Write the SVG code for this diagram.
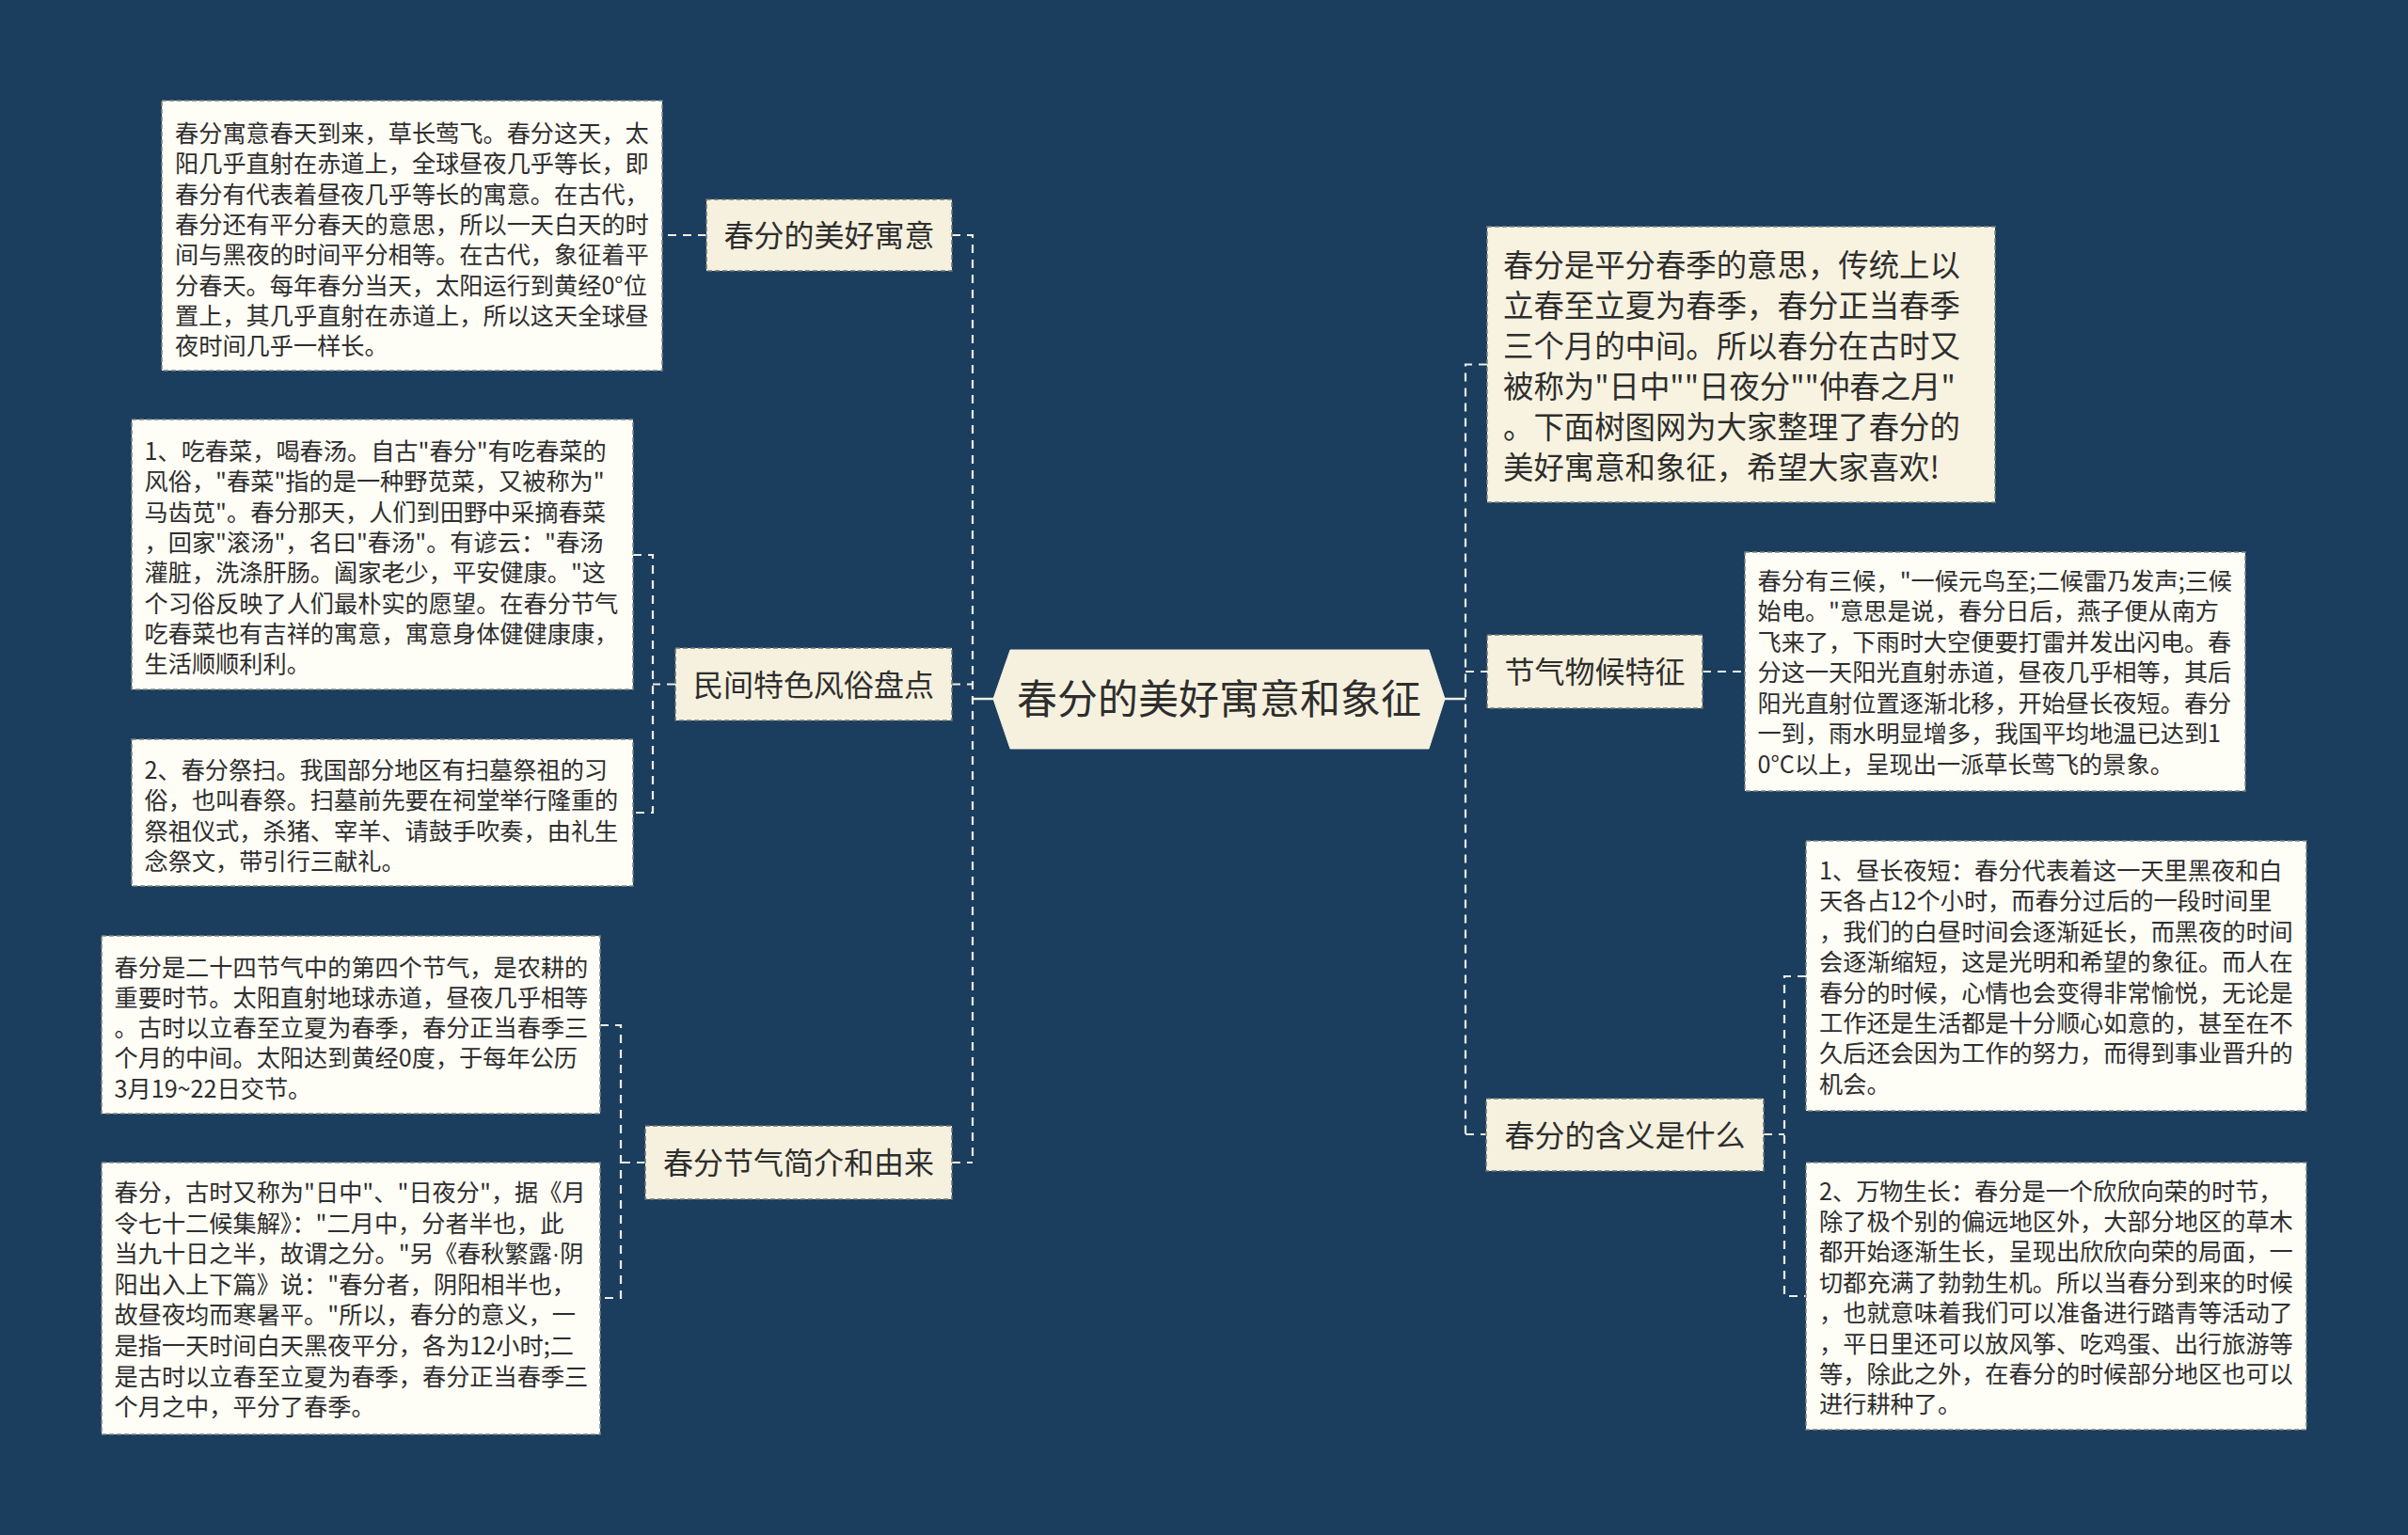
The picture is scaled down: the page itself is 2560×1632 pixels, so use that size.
<svg xmlns="http://www.w3.org/2000/svg" width="2560" height="1632" viewBox="0 0 2560 1632">
<style>
.bg{fill:#1b3d5e}
.node{fill:#f6f1de;stroke:#6f7570;stroke-width:1.5;stroke-dasharray:5 3}
.box{fill:#fefdf6;stroke:#7d8580;stroke-width:1.5;stroke-dasharray:5 3}
.intro{fill:#f8f3e0;stroke:#7d8580;stroke-width:1.5;stroke-dasharray:5 3}
.root{fill:#f6f1de;stroke:#f6f1de;stroke-width:1}
.c{fill:none;stroke:#eeeee6;stroke-width:2.2;stroke-dasharray:9 7}
.s{fill:none;stroke:#eeeee6;stroke-width:2.5}
text{font-family:"Noto Sans CJK SC","Noto Sans",sans-serif;fill:#2e2e2e}
.t{font-size:25.2px}
.m{font-size:32px;text-anchor:middle}
.i{font-size:32.4px}
.r{font-size:43px;text-anchor:middle}
.lat{font-family:"Liberation Sans",sans-serif}
</style>
<rect class="bg" x="0" y="0" width="2560" height="1632"/>

<g id="connectors">
  <path class="s" d="M1034 743 H1056"/>
  <path class="s" d="M1536 743 H1558"/>
  <path class="c" d="M1012 250 H1034 V1236"/>
  <path class="c" d="M1012 727.5 H1034"/>
  <path class="c" d="M1012 1236 H1034"/>
  <path class="c" d="M1581 387.5 H1558 V1206"/>
  <path class="c" d="M1558 714 H1581"/>
  <path class="c" d="M1558 1206 H1580"/>
  <path class="c" d="M751 250 H704"/>
  <path class="c" d="M718 727.5 H694"/>
  <path class="c" d="M673 590 H694 V864 H673"/>
  <path class="c" d="M686 1236 H660"/>
  <path class="c" d="M638 1090 H660 V1380 H638"/>
  <path class="c" d="M1810 714 H1855"/>
  <path class="c" d="M1875 1206 H1897"/>
  <path class="c" d="M1920 1038 H1897 V1378 H1920"/>
</g>

<g id="root">
  <polygon class="root" points="1056,743 1074,691 1519,691 1536,743 1519,796 1074,796"/>
  <text class="r" x="1296" y="759">春分的美好寓意和象征</text>
</g>

<g id="n-meihao">
  <rect class="node" x="751" y="212" width="261" height="76"/>
  <text class="m" x="881.5" y="262">春分的美好寓意</text>
</g>
<g id="n-minjian">
  <rect class="node" x="718" y="689" width="294" height="77"/>
  <text class="m" x="865" y="739.5">民间特色风俗盘点</text>
</g>
<g id="n-jieqi">
  <rect class="node" x="686" y="1197" width="326" height="78"/>
  <text class="m" x="849" y="1248">春分节气简介和由来</text>
</g>
<g id="n-wuhou">
  <rect class="node" x="1581" y="675" width="229" height="78"/>
  <text class="m" x="1695.5" y="726">节气物候特征</text>
</g>
<g id="n-hanyi">
  <rect class="node" x="1580" y="1168" width="295" height="77"/>
  <text class="m" x="1727.5" y="1218.5">春分的含义是什么</text>
</g>

<g id="intro">
  <rect class="intro" x="1581" y="241" width="540" height="293"/>
  <text class="i" x="1598"><tspan x="1598" y="294">春分是平分春季的意思，传统上以</tspan><tspan x="1598" y="337">立春至立夏为春季，春分正当春季</tspan><tspan x="1598" y="380">三个月的中间。所以春分在古时又</tspan><tspan x="1598" y="423">被称为"日中""日夜分""仲春之月"</tspan><tspan x="1598" y="466">。下面树图网为大家整理了春分的</tspan><tspan x="1598" y="509">美好寓意和象征，希望大家喜欢!</tspan></text>
</g>

<g id="b-meihao">
  <rect class="box" x="172" y="107" width="532" height="287"/>
  <text class="t"><tspan x="186" y="151">春分寓意春天到来，草长莺飞。春分这天，太</tspan><tspan x="186" y="183.3">阳几乎直射在赤道上，全球昼夜几乎等长，即</tspan><tspan x="186" y="215.6">春分有代表着昼夜几乎等长的寓意。在古代，</tspan><tspan x="186" y="247.9">春分还有平分春天的意思，所以一天白天的时</tspan><tspan x="186" y="280.2">间与黑夜的时间平分相等。在古代，象征着平</tspan><tspan x="186" y="312.5">分春天。每年春分当天，太阳运行到黄经0°位</tspan><tspan x="186" y="344.8">置上，其几乎直射在赤道上，所以这天全球昼</tspan><tspan x="186" y="377.1">夜时间几乎一样长。</tspan></text>
</g>

<g id="b-chuncai">
  <rect class="box" x="140" y="446" width="533" height="287"/>
  <text class="t"><tspan x="153.5" y="489">1、吃春菜，喝春汤。自古"春分"有吃春菜的</tspan><tspan x="153.5" y="521.3">风俗，"春菜"指的是一种野苋菜，又被称为"</tspan><tspan x="153.5" y="553.6">马齿苋"。春分那天，人们到田野中采摘春菜</tspan><tspan x="153.5" y="585.9">，回家"滚汤"，名曰"春汤"。有谚云："春汤</tspan><tspan x="153.5" y="618.2">灌脏，洗涤肝肠。阖家老少，平安健康。"这</tspan><tspan x="153.5" y="650.5">个习俗反映了人们最朴实的愿望。在春分节气</tspan><tspan x="153.5" y="682.8">吃春菜也有吉祥的寓意，寓意身体健健康康，</tspan><tspan x="153.5" y="715.1">生活顺顺利利。</tspan></text>
</g>

<g id="b-jisao">
  <rect class="box" x="140" y="786" width="533" height="156"/>
  <text class="t"><tspan x="153.5" y="828">2、春分祭扫。我国部分地区有扫墓祭祖的习</tspan><tspan x="153.5" y="860.3">俗，也叫春祭。扫墓前先要在祠堂举行隆重的</tspan><tspan x="153.5" y="892.6">祭祖仪式，杀猪、宰羊、请鼓手吹奏，由礼生</tspan><tspan x="153.5" y="924.9">念祭文，带引行三献礼。</tspan></text>
</g>

<g id="b-jianjie">
  <rect class="box" x="108" y="995" width="530" height="189"/>
  <text class="t"><tspan x="121.5" y="1037.5">春分是二十四节气中的第四个节气，是农耕的</tspan><tspan x="121.5" y="1069.8">重要时节。太阳直射地球赤道，昼夜几乎相等</tspan><tspan x="121.5" y="1102.1">。古时以立春至立夏为春季，春分正当春季三</tspan><tspan x="121.5" y="1134.4">个月的中间。太阳达到黄经0度，于每年公历</tspan><tspan x="121.5" y="1166.7">3月19~22日交节。</tspan></text>
</g>

<g id="b-youlai">
  <rect class="box" x="108" y="1236" width="530" height="289"/>
  <text class="t"><tspan x="121.5" y="1277">春分，古时又称为"日中"、"日夜分"，据《月</tspan><tspan x="121.5" y="1309.6">令七十二候集解》："二月中，分者半也，此</tspan><tspan x="121.5" y="1342.2">当九十日之半，故谓之分。"另《春秋繁露<tspan class="lat">·</tspan>阴</tspan><tspan x="121.5" y="1374.8">阳出入上下篇》说："春分者，阴阳相半也，</tspan><tspan x="121.5" y="1407.4">故昼夜均而寒暑平。"所以，春分的意义，一</tspan><tspan x="121.5" y="1440">是指一天时间白天黑夜平分，各为12小时;二</tspan><tspan x="121.5" y="1472.6">是古时以立春至立夏为春季，春分正当春季三</tspan><tspan x="121.5" y="1505.2">个月之中，平分了春季。</tspan></text>
</g>

<g id="b-wuhou">
  <rect class="box" x="1855" y="587" width="532" height="254"/>
  <text class="t"><tspan x="1868.5" y="626.5">春分有三候，"一候元鸟至;二候雷乃发声;三候</tspan><tspan x="1868.5" y="659">始电。"意思是说，春分日后，燕子便从南方</tspan><tspan x="1868.5" y="691.5">飞来了，下雨时大空便要打雷并发出闪电。春</tspan><tspan x="1868.5" y="724">分这一天阳光直射赤道，昼夜几乎相等，其后</tspan><tspan x="1868.5" y="756.5">阳光直射位置逐渐北移，开始昼长夜短。春分</tspan><tspan x="1868.5" y="789">一到，雨水明显增多，我国平均地温已达到1</tspan><tspan x="1868.5" y="821.5">0°C以上，呈现出一派草长莺飞的景象。</tspan></text>
</g>

<g id="b-zhouchang">
  <rect class="box" x="1920" y="894" width="532" height="287"/>
  <text class="t"><tspan x="1934" y="935">1、昼长夜短：春分代表着这一天里黑夜和白</tspan><tspan x="1934" y="967.4">天各占12个小时，而春分过后的一段时间里</tspan><tspan x="1934" y="999.8">，我们的白昼时间会逐渐延长，而黑夜的时间</tspan><tspan x="1934" y="1032.2">会逐渐缩短，这是光明和希望的象征。而人在</tspan><tspan x="1934" y="1064.6">春分的时候，心情也会变得非常愉悦，无论是</tspan><tspan x="1934" y="1097">工作还是生活都是十分顺心如意的，甚至在不</tspan><tspan x="1934" y="1129.4">久后还会因为工作的努力，而得到事业晋升的</tspan><tspan x="1934" y="1161.8">机会。</tspan></text>
</g>

<g id="b-wanwu">
  <rect class="box" x="1920" y="1236" width="532" height="284"/>
  <text class="t"><tspan x="1934" y="1275.5">2、万物生长：春分是一个欣欣向荣的时节，</tspan><tspan x="1934" y="1307.9">除了极个别的偏远地区外，大部分地区的草木</tspan><tspan x="1934" y="1340.3">都开始逐渐生长，呈现出欣欣向荣的局面，一</tspan><tspan x="1934" y="1372.7">切都充满了勃勃生机。所以当春分到来的时候</tspan><tspan x="1934" y="1405.1">，也就意味着我们可以准备进行踏青等活动了</tspan><tspan x="1934" y="1437.5">，平日里还可以放风筝、吃鸡蛋、出行旅游等</tspan><tspan x="1934" y="1469.9">等，除此之外，在春分的时候部分地区也可以</tspan><tspan x="1934" y="1502.3">进行耕种了。</tspan></text>
</g>
</svg>
